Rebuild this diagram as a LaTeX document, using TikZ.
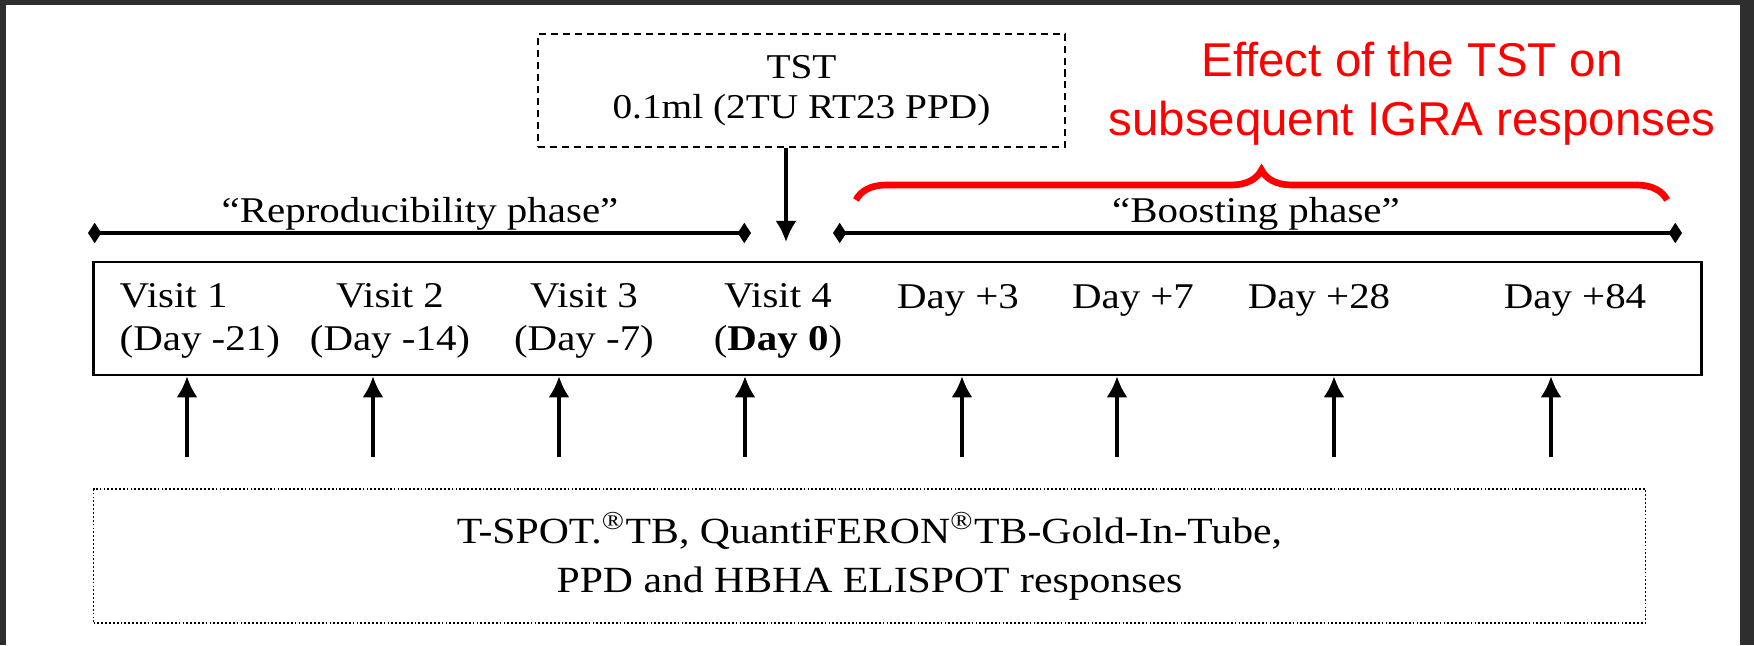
\documentclass[tikz,border=0pt]{standalone}
\usepackage{fontspec}
\setmainfont{Liberation Serif}[FakeStretch=1.13]
\newfontfamily\redfont{Liberation Sans}
\usetikzlibrary{arrows.meta,decorations.pathreplacing}
\definecolor{viewer}{RGB}{46,46,46}
\definecolor{brightred}{RGB}{255,0,0}

\begin{document}
\begin{tikzpicture}[x=0.01cm, y=-0.01cm,
    txt/.style={inner sep=0pt, font=\fontsize{10.3pt}{12.1pt}\selectfont},
    visitbox/.style={draw, line width=0.7pt, minimum width=16.07cm, minimum height=1.13cm, inner sep=0pt},
    tstbox/.style={draw, dash pattern=on 2pt off 1.4pt, line width=0.6pt, minimum width=5.27cm, minimum height=1.13cm, align=center, inner sep=0pt, font=\fontsize{9.9pt}{11.4pt}\selectfont},
    labbox/.style={draw, dash pattern=on 0.5pt off 0.6pt, line width=0.4pt, minimum width=15.51cm, minimum height=1.34cm, align=center, inner sep=0pt, font=\fontsize{10.5pt}{14pt}\selectfont},
    probe/.style={line width=1pt, -{Latex[length=6pt, width=6pt]}},
    phaseline/.style={line width=1pt, {Diamond[length=3.8pt, width=5.8pt]}-{Diamond[length=3.8pt, width=5.8pt]}}]
    % page in the viewer
    \fill[viewer](0, 0)rectangle(1754, 645);
    \fill[white](6, 5)rectangle(1740, 645);
    \useasboundingbox(0, 0)rectangle(1754, 645);
    % TST injection
    \node[tstbox] (tst) at (801.5, 90.5) {TST\\0.1ml (2TU RT23 PPD)};
    \coordinate (inj) at (786, 242);
    \draw[probe] (inj |- tst.south) -- (inj);
    % red note and brace
    \node[anchor=base, align=center, text=brightred, inner sep=0pt, font=\redfont\fontsize{13.5pt}{16.5pt}\selectfont] (effect) at (1412, 135) {Effect of the TST on\\subsequent IGRA responses};
    \coordinate (bl) at (856, 200);
    \coordinate (br) at (1667, 200);
    \draw[brightred, line width=1.9pt, decorate, decoration={brace, amplitude=0.3cm}] (bl) -- (br);
    % phases
    \coordinate (r1) at (88, 233);
    \coordinate (r2) at (751, 233);
    \coordinate (b1) at (833, 233);
    \coordinate (b2) at (1682, 233);
    \draw[phaseline] (r1) -- (r2);
    \draw[phaseline] (b1) -- (b2);
    \node[txt, anchor=base] (repro) at (420, 222) {“Reproducibility phase”};
    \node[txt, anchor=base] (boost) at (1256, 222) {“Boosting phase”};
    % visits
    \node[visitbox] (visits) at (897.5, 318.5) {};
    \node[txt, anchor=base west, align=left] (v1) at (119, 350) {Visit 1\\(Day -21)};
    \node[txt, anchor=base, align=center] (v2) at (390, 350) {Visit 2\\(Day -14)};
    \node[txt, anchor=base, align=center] (v3) at (584, 350) {Visit 3\\(Day -7)};
    \node[txt, anchor=base, align=center] (v4) at (778, 350) {Visit 4\\(\textbf{Day 0})};
    \node[txt, anchor=base] (d3) at (958, 308) {Day +3};
    \node[txt, anchor=base] (d7) at (1133, 308) {Day +7};
    \node[txt, anchor=base] (d28) at (1319, 308) {Day +28};
    \node[txt, anchor=base] (d84) at (1575, 308) {Day +84};
    % samples
    \coordinate (m1) at (187, 457);
    \coordinate (m2) at (373, 457);
    \coordinate (m3) at (559, 457);
    \coordinate (m4) at (745, 457);
    \coordinate (m5) at (962, 457);
    \coordinate (m6) at (1117, 457);
    \coordinate (m7) at (1334, 457);
    \coordinate (m8) at (1551, 457);
    \draw[probe] (m1) -- (m1 |- visits.south);
    \draw[probe] (m2) -- (m2 |- visits.south);
    \draw[probe] (m3) -- (m3 |- visits.south);
    \draw[probe] (m4) -- (m4 |- visits.south);
    \draw[probe] (m5) -- (m5 |- visits.south);
    \draw[probe] (m6) -- (m6 |- visits.south);
    \draw[probe] (m7) -- (m7 |- visits.south);
    \draw[probe] (m8) -- (m8 |- visits.south);
    % assays
    \node[labbox] (assays) at (869.5, 556) {T-SPOT.\textsuperscript{\textregistered}TB, QuantiFERON\textsuperscript{\textregistered}TB-Gold-In-Tube,\\PPD and HBHA ELISPOT responses};
\end{tikzpicture}
\end{document}
